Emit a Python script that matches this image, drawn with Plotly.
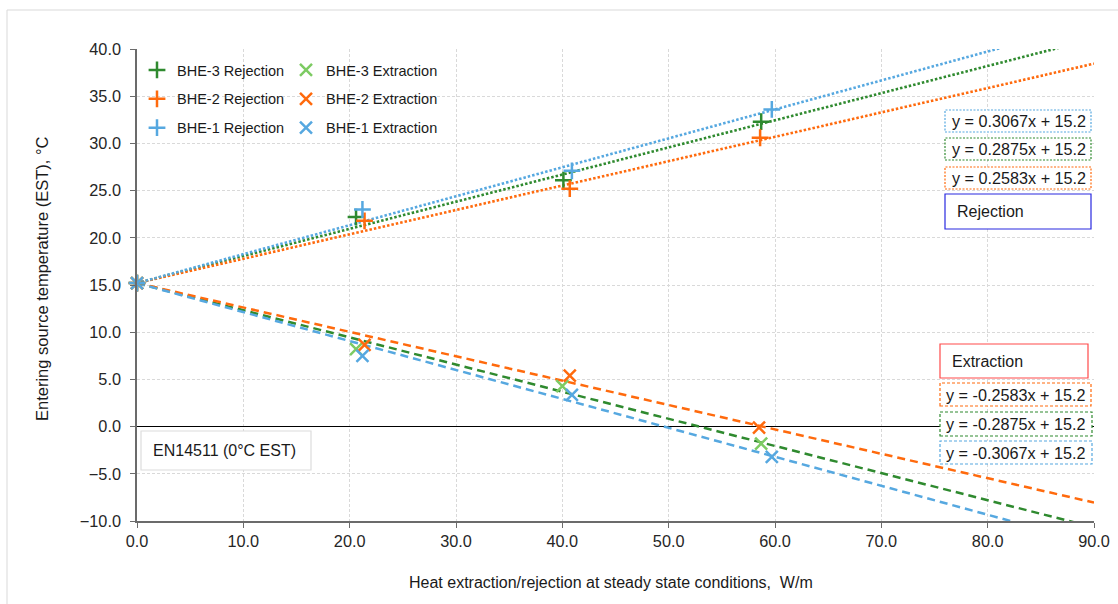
import plotly.graph_objects as go

# ---------------- data ----------------
intercept = 15.2
bhe_names = ["BHE-3", "BHE-2", "BHE-1"]

heat_rej = {
    "BHE-3": [0.0, 20.6, 40.1, 58.7],
    "BHE-2": [0.0, 21.4, 40.7, 58.6],
    "BHE-1": [0.0, 21.2, 40.9, 59.7],
}
est_rej = {
    "BHE-3": [15.2, 22.2, 26.1, 32.3],
    "BHE-2": [15.2, 21.8, 25.2, 30.6],
    "BHE-1": [15.2, 23.0, 27.1, 33.6],
}
heat_ext = {
    "BHE-3": [0.0, 20.6, 40.0, 58.7],
    "BHE-2": [0.0, 21.4, 40.7, 58.5],
    "BHE-1": [0.0, 21.2, 40.9, 59.7],
}
est_ext = {
    "BHE-3": [15.2, 8.2, 4.3, -1.8],
    "BHE-2": [15.2, 8.65, 5.4, -0.1],
    "BHE-1": [15.2, 7.5, 3.35, -3.2],
}
slope_rej = {"BHE-1": 0.3067, "BHE-3": 0.2875, "BHE-2": 0.2583}
slope_ext = {"BHE-2": -0.2583, "BHE-3": -0.2875, "BHE-1": -0.3067}
trend_x = [0.0, 90.0]

x_ticks = [0, 10, 20, 30, 40, 50, 60, 70, 80, 90]
y_ticks = [-10, -5, 0, 5, 10, 15, 20, 25, 30, 35, 40]

# ---------------- styles ----------------
FONT = "Liberation Sans, Arial, sans-serif"
line_col = {"BHE-3": "#2f8a2f", "BHE-2": "#ff6a0d", "BHE-1": "#56a8e0"}
rej_mark_col = {"BHE-3": "#2f8a2f", "BHE-2": "#ff6a0d", "BHE-1": "#56a8e0"}
ext_mark_col = {"BHE-3": "#7dcb63", "BHE-2": "#ff6a0d", "BHE-1": "#56a8e0"}

L, R, T, B = 137, 1094, 49, 521
W, H = R - L, B - T


def px(x):
    return (x - L) / W


def py(y):
    return (B - y) / H


fig = go.Figure()

# trendlines
for n in bhe_names:
    s = slope_rej[n]
    fig.add_trace(go.Scatter(
        x=trend_x, y=[intercept + s * xv for xv in trend_x], mode="lines",
        line=dict(color=line_col[n], width=2.6, dash="2.5px,2px"),
        showlegend=False, hoverinfo="skip"))
for n in bhe_names:
    s = slope_ext[n]
    fig.add_trace(go.Scatter(
        x=trend_x, y=[intercept + s * xv for xv in trend_x], mode="lines",
        line=dict(color=line_col[n], width=2.5, dash="8px,5px"),
        showlegend=False, hoverinfo="skip"))

# markers
for i, n in enumerate(bhe_names):
    fig.add_trace(go.Scatter(
        x=heat_rej[n], y=est_rej[n], mode="markers", name=f"{n} Rejection",
        marker=dict(symbol="cross-thin", size=12, color=rej_mark_col[n],
                    line=dict(color=rej_mark_col[n], width=2.5)),
        legend="legend", legendgroup=f"r{i}", cliponaxis=False))
for i, n in enumerate(bhe_names):
    fig.add_trace(go.Scatter(
        x=heat_ext[n], y=est_ext[n], mode="markers", name=f"{n} Extraction",
        marker=dict(symbol="x-thin", size=12, color=ext_mark_col[n],
                    line=dict(color=ext_mark_col[n], width=2.5)),
        legend="legend2", legendgroup=f"e{i}", cliponaxis=False))

shapes = []
annotations = []


def box(x0, y0, x1, y1, text, color, dash, tx, size=16):
    shapes.append(dict(type="rect", xref="paper", yref="paper",
                       x0=px(x0), x1=px(x1), y0=py(y1), y1=py(y0),
                       line=dict(color=color, width=1.2, dash=dash),
                       fillcolor="white", layer="above"))
    annotations.append(dict(xref="paper", yref="paper", x=px(tx), y=py((y0 + y1) / 2),
                            xanchor="left", yanchor="middle", showarrow=False,
                            text=text, font=dict(family=FONT, size=size, color="#1a1a1a")))


# rejection equations
box(945, 110, 1091, 132, f"y = {slope_rej['BHE-1']:.4f}x + {intercept}", line_col["BHE-1"], "2px,1.5px", 950, 16.2)
box(945, 138, 1091, 160, f"y = {slope_rej['BHE-3']:.4f}x + {intercept}", line_col["BHE-3"], "2px,1.5px", 950, 16.2)
box(945, 167, 1091, 189, f"y = {slope_rej['BHE-2']:.4f}x + {intercept}", line_col["BHE-2"], "2px,1.5px", 950, 16.2)
box(945, 194, 1091, 229, "Rejection", "#2828e0", "solid", 955)
# extraction equations
box(940, 344, 1088, 378, "Extraction", "#ff4a4a", "solid", 950)
box(940, 383, 1091, 406, f"y = {slope_ext['BHE-2']:.4f}x + {intercept}", line_col["BHE-2"], "3px,2px", 944, 16.2)
box(940, 412, 1092, 436, f"y = {slope_ext['BHE-3']:.4f}x + {intercept}", line_col["BHE-3"], "3px,2px", 944, 16.2)
box(940, 441, 1092, 464, f"y = {slope_ext['BHE-1']:.4f}x + {intercept}", line_col["BHE-1"], "3px,2px", 944, 16.2)
# EN14511 box
box(141, 431, 311, 470, "EN14511 (0°C EST)", "#dcdcdc", "solid", 151)

# outer chart border (top and left visible)
shapes.append(dict(type="line", xref="paper", yref="paper", x0=px(7), x1=px(1130),
                   y0=py(10), y1=py(10), line=dict(color="#d9d9d9", width=1)))
shapes.append(dict(type="line", xref="paper", yref="paper", x0=px(7), x1=px(7),
                   y0=py(10), y1=py(620), line=dict(color="#d9d9d9", width=1)))

# axis titles
annotations.append(dict(xref="paper", yref="paper", x=px(611), y=py(582),
                        xanchor="center", yanchor="middle", showarrow=False,
                        text="Heat extraction/rejection at steady state conditions,  W/m",
                        font=dict(family=FONT, size=16, color="#1a1a1a")))
annotations.append(dict(xref="paper", yref="paper", x=px(42), y=py(279),
                        xanchor="center", yanchor="middle", showarrow=False, textangle=-90,
                        text="Entering source temperature (EST), °C",
                        font=dict(family=FONT, size=16.5, color="#1a1a1a")))

axis_common = dict(
    showgrid=True, gridcolor="#d9d9d9", gridwidth=1, griddash="3px,2px",
    showline=True, linecolor="#6b6b6b", linewidth=1.5,
    ticks="outside", ticklen=5, tickcolor="#6b6b6b", tickwidth=1.2,
    tickformat=".1f", tickfont=dict(family=FONT, size=16.3, color="#262626"),
    automargin=False,
)

fig.update_layout(
    width=1118, height=604, autosize=False,
    margin=dict(l=L, r=1118 - R, t=T, b=604 - B, pad=0, autoexpand=False),
    paper_bgcolor="white", plot_bgcolor="white",
    font=dict(family=FONT, size=15, color="#1a1a1a"),
    xaxis=dict(range=[0, 90], tickvals=x_ticks, zeroline=False, **axis_common),
    yaxis=dict(range=[-10, 40], tickvals=y_ticks, zeroline=True, zerolinecolor="#000000",
               zerolinewidth=1.3, ticklabelstandoff=6, **axis_common),
    legend=dict(x=px(137), y=py(54), xanchor="left", yanchor="top",
                bgcolor="rgba(255,255,255,0)", borderwidth=0,
                font=dict(family=FONT, size=14.5, color="#1a1a1a"),
                tracegroupgap=7, itemwidth=30),
    legend2=dict(x=px(286), y=py(54), xanchor="left", yanchor="top",
                 bgcolor="rgba(255,255,255,0)", borderwidth=0,
                 font=dict(family=FONT, size=14.5, color="#1a1a1a"),
                 tracegroupgap=7, itemwidth=30),
    shapes=shapes, annotations=annotations,
    showlegend=True,
)

fig.write_html("out.html")
